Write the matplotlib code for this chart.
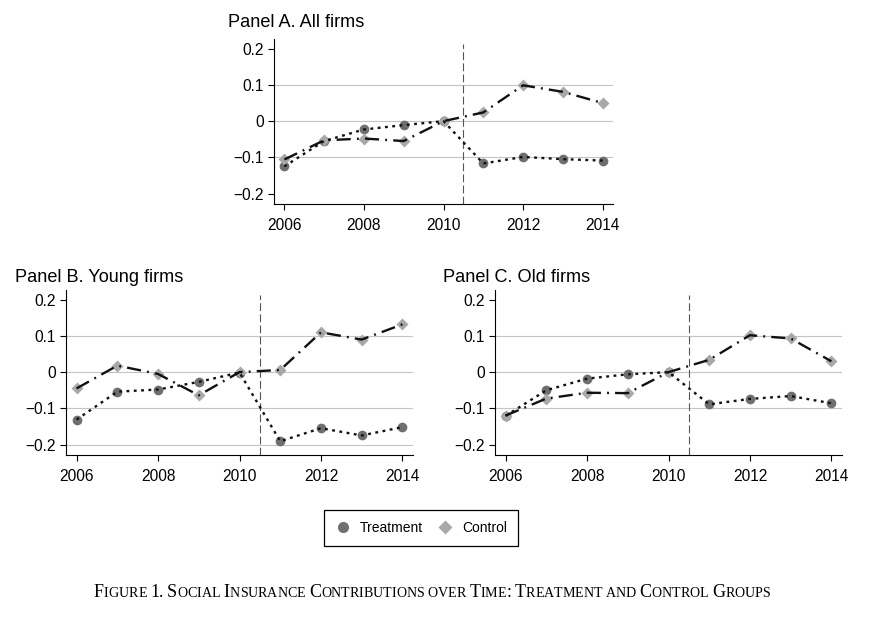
import numpy as np
import matplotlib.pyplot as plt
from matplotlib.lines import Line2D

plt.rcParams['font.family'] = ['Liberation Sans', 'DejaVu Sans']

# Data
years = [2006, 2007, 2008, 2009, 2010, 2011, 2012, 2013, 2014]

treat_all = [-0.125, -0.055, -0.023, -0.011, 0.0, -0.117, -0.099, -0.105, -0.109]
ctrl_all = [-0.106, -0.053, -0.048, -0.055, 0.0, 0.024, 0.099, 0.081, 0.050]

treat_young = [-0.131, -0.054, -0.048, -0.027, -0.001, -0.191, -0.155, -0.175, -0.152]
ctrl_young = [-0.045, 0.018, -0.005, -0.064, 0.0, 0.006, 0.110, 0.090, 0.132]

treat_old = [-0.121, -0.050, -0.018, -0.006, 0.0, -0.089, -0.074, -0.066, -0.086]
ctrl_old = [-0.120, -0.073, -0.057, -0.058, 0.0, 0.034, 0.102, 0.093, 0.030]

panel_titles = ["Panel A. All firms", "Panel B. Young firms", "Panel C. Old firms"]
xticks = [2006, 2008, 2010, 2012, 2014]
yticks = [-0.2, -0.1, 0, 0.1, 0.2]
ylabels = ["\u22120.2", "\u22120.1", "0", "0.1", "0.2"]
reform_year = 2010.5

treat_col = "#6f6f6f"
ctrl_col = "#a8a8a8"

W, H = 876, 619
fig = plt.figure(figsize=(W / 100, H / 100), dpi=100)


def px_axes(l, r, t, b):
    return fig.add_axes([l / W, 1 - b / H, (r - l) / W, (b - t) / H])


def draw_panel(ax, treat, ctrl, title, grid_vals, title_x, title_y):
    for g in grid_vals:
        ax.axhline(g, color="#c4c4c4", lw=0.8, zorder=0)
    ax.axvline(reform_year, color="#555555", lw=0.8, dashes=(7, 3), ymax=0.97, zorder=1)
    ax.plot(years, treat, "o", ms=7, color=treat_col, mec="none", zorder=2)
    ax.plot(years, ctrl, "D", ms=6.2, color=ctrl_col, mec="none", zorder=2)
    ax.plot(years, treat, color="#111111", lw=1.7, dashes=(1.2, 1.9), zorder=3)
    ax.plot(years, ctrl, color="#111111", lw=1.7, dashes=(6, 2.6, 0.8, 2.6), zorder=3)
    ax.set_xlim(2005.74, 2014.26)
    ax.set_ylim(-0.229, 0.227)
    ax.set_xticks(xticks)
    ax.set_yticks(yticks)
    ax.set_yticklabels(ylabels)
    ax.tick_params(labelsize=11.2, length=4.2, width=0.8, direction="out")
    ax.tick_params(axis="x", pad=6)
    ax.tick_params(axis="y", pad=3)
    ax.spines["top"].set_visible(False)
    ax.spines["right"].set_visible(False)
    ax.spines["left"].set_linewidth(0.8)
    ax.spines["bottom"].set_linewidth(0.8)
    fig.text(title_x / W, 1 - title_y / H, title, fontsize=13.1, ha="left", va="baseline")


axA = px_axes(274, 613, 39, 204)
draw_panel(axA, treat_all, ctrl_all, panel_titles[0], [0.1, 0, -0.1], 228, 27)

axB = px_axes(66, 413, 290, 455)
draw_panel(axB, treat_young, ctrl_young, panel_titles[1], [0.1, 0, -0.1, -0.2], 15, 282)

axC = px_axes(495, 842, 290, 455)
draw_panel(axC, treat_old, ctrl_old, panel_titles[2], [0.1, 0, -0.1], 443, 282)

handles = [
    Line2D([], [], ls="none", marker="o", ms=8, color=treat_col, mec="none"),
    Line2D([], [], ls="none", marker="D", ms=7, color=ctrl_col, mec="none"),
]
leg = fig.legend(handles, ["Treatment", "Control"], loc="center",
                 bbox_to_anchor=(421 / W, 1 - 528 / H), ncol=2, fontsize=10,
                 frameon=True, fancybox=False, framealpha=1, edgecolor="black",
                 handlelength=1.2, handletextpad=0.6, columnspacing=1.0,
                 borderpad=0.8)
leg.get_frame().set_linewidth(0.9)

# caption in small caps, built from pieces
caption = "Figure 1. Social Insurance Contributions over Time: Treatment and Control Groups"
big, small = 12.0, 9.3
pieces = []
for ch in caption:
    if ch.isupper() or ch.isdigit() or ch in ".:":
        pieces.append((ch, big))
    else:
        pieces.append((ch.upper(), small))

fig.canvas.draw()
renderer = fig.canvas.get_renderer()
texts = []
for s, size in pieces:
    t = fig.text(0, 0, "\u00a0" if s == " " else s, fontsize=size,
                 family="Liberation Serif", va="baseline")
    texts.append((t, size))

# scale so the caption spans the same width as in the original
widths = [t.get_window_extent(renderer).width for t, _ in texts]
scale = 673 / sum(widths)
for t, size in texts:
    t.set_fontsize(size * scale)
widths = [t.get_window_extent(renderer).width for t, _ in texts]
x = 432 - sum(widths) / 2
for (t, _), w in zip(texts, widths):
    t.set_position((x / W, 1 - 597 / H))
    x += w

fig.savefig("out.png", dpi=100)
